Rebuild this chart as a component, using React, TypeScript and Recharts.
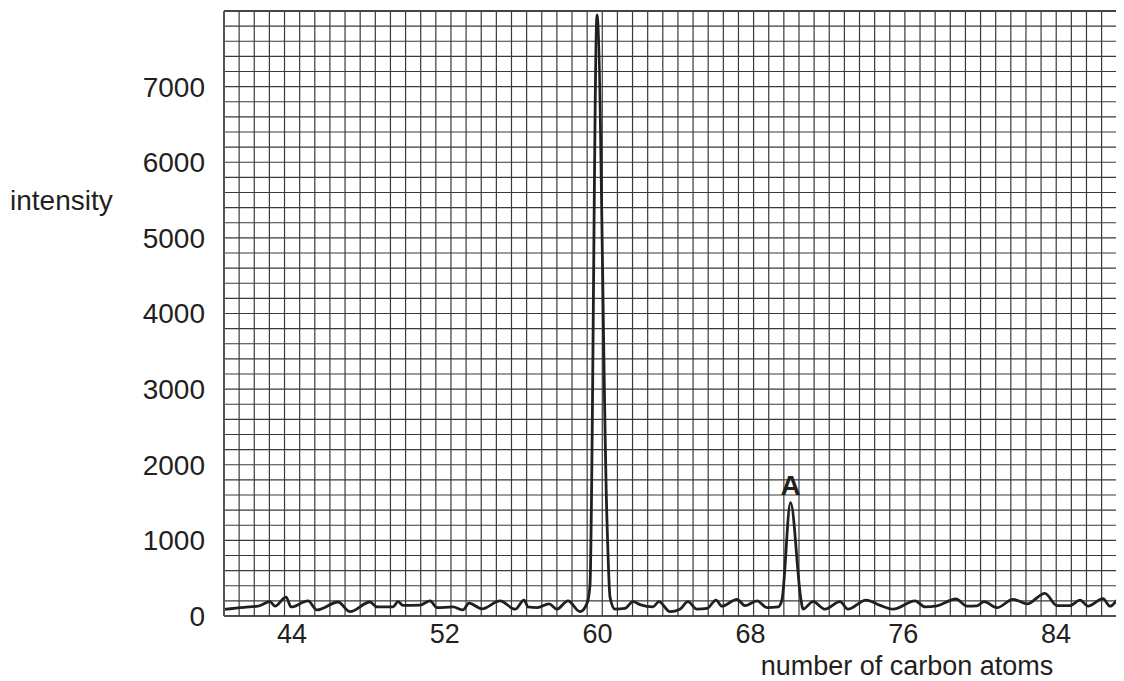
import React from 'react';
import { LineChart, Line, XAxis, YAxis, CartesianGrid, ReferenceDot, ReferenceLine } from 'recharts';

// number of carbon atoms (x) and detector intensity (y)
const carbonAtoms = [
  40.44, 41.5, 42.22, 42.85, 43.11, 43.69, 43.95, 44.84, 45.31, 46.41, 47.04, 48.08, 48.45,
  49.29, 49.55, 49.81, 50.7, 51.23, 51.59, 52.43, 52.95, 53.27, 53.95, 54.89, 55.68, 56.15,
  56.36, 56.83, 57.46, 57.87, 58.45, 59.08, 59.45, 59.6, 59.97, 60.49, 60.65, 60.91, 61.43,
  61.85, 62.22, 62.9, 63.21, 63.79, 64.31, 64.73, 65.2, 65.73, 66.2, 66.51, 67.3, 67.72,
  68.35, 68.87, 69.45, 69.65, 70.1, 70.65, 70.75, 71.28, 71.91, 72.69, 73.11, 74.05, 74.79,
  75.47, 76.62, 77.14, 77.77, 78.76, 79.34, 79.86, 80.23, 80.91, 81.75, 82.48, 83.42, 84.05,
  84.73, 85.26, 85.68, 86.46, 86.83, 87.35, 87.56,
];
const intensity = [
  88, 115, 130, 190, 130, 250, 120, 200, 80, 185, 57, 185, 120,
  120, 190, 140, 145, 200, 110, 120, 80, 170, 95, 200, 90, 210,
  120, 110, 160, 90, 200, 57, 170, 400, 7950, 1270, 250, 90, 100,
  190, 150, 120, 190, 57, 90, 190, 90, 100, 210, 130, 220, 137,
  200, 110, 120, 210, 1500, 210, 90, 190, 90, 190, 90, 210, 140,
  90, 200, 120, 135, 225, 130, 135, 190, 110, 221, 160, 300, 137,
  137, 210, 130, 230, 130, 230, 170,
];

const xTicks = [44, 52, 60, 68, 76, 84];
const yTicks = [0, 1000, 2000, 3000, 4000, 5000, 6000, 7000];

const X_MIN = 40.44;
const X_MAX = 87.56;
const Y_MAX = 8000;
const GRID_X_STEP = 0.7922;
const GRID_X_COUNT = 59;
const GRID_Y_STEP = 200;

const peakLabel = { x: 70.1, y: 1500, text: 'A' };

const data = carbonAtoms.map((x, i) => ({ x, y: intensity[i] }));
const vGrid = Array.from({ length: GRID_X_COUNT + 1 }, (_, k) => X_MIN + k * GRID_X_STEP);
const hGrid = Array.from({ length: Y_MAX / GRID_Y_STEP + 1 }, (_, k) => k * GRID_Y_STEP);

const FONT = '"Liberation Sans", Arial, Helvetica, sans-serif';
const INK = '#231f20';

export default function App() {
  return (
    <div style={{ fontFamily: FONT }}>
      <LineChart
        width={1116}
        height={673}
        data={data}
        margin={{ top: 3, right: 0, bottom: 0, left: 0 }}
      >
        <CartesianGrid
          horizontalValues={hGrid}
          verticalValues={vGrid}
          stroke="#3a3a3a"
          strokeWidth={1.2}
        />
        <ReferenceLine y={Y_MAX} stroke="#444" strokeWidth={2.2} />
        <XAxis
          dataKey="x"
          type="number"
          domain={[X_MIN, X_MAX]}
          allowDataOverflow
          ticks={xTicks}
          interval={0}
          height={65}
          tickLine={false}
          tickSize={0}
          tickMargin={8}
          axisLine={{ stroke: '#333', strokeWidth: 1.5 }}
          tick={{ fill: INK, fontSize: 27, fontFamily: FONT }}
          label={{
            value: 'number of carbon atoms',
            position: 'insideBottom',
            offset: 6,
            dx: 233,
            fill: INK,
            fontSize: 27,
            fontFamily: FONT,
          }}
        />
        <YAxis
          type="number"
          domain={[0, Y_MAX]}
          allowDataOverflow
          ticks={yTicks}
          interval={0}
          width={216}
          tickLine={false}
          tickSize={0}
          tickMargin={19}
          axisLine={{ stroke: '#555', strokeWidth: 2 }}
          tick={{ fill: INK, fontSize: 28, fontFamily: FONT }}
          label={{
            value: 'intensity',
            position: 'insideLeft',
            offset: 2,
            dy: -113,
            fill: INK,
            fontSize: 28,
            fontFamily: FONT,
          }}
        />
        <Line
          type="monotone"
          dataKey="y"
          stroke={INK}
          strokeWidth={2.8}
          dot={false}
          activeDot={false}
          isAnimationActive={false}
        />
        <ReferenceDot
          x={peakLabel.x}
          y={peakLabel.y}
          r={0}
          fill="none"
          stroke="none"
          label={{
            value: peakLabel.text,
            position: 'top',
            offset: 8,
            fill: INK,
            fontSize: 28,
            fontWeight: 'bold',
            fontFamily: FONT,
          }}
        />
      </LineChart>
    </div>
  );
}
